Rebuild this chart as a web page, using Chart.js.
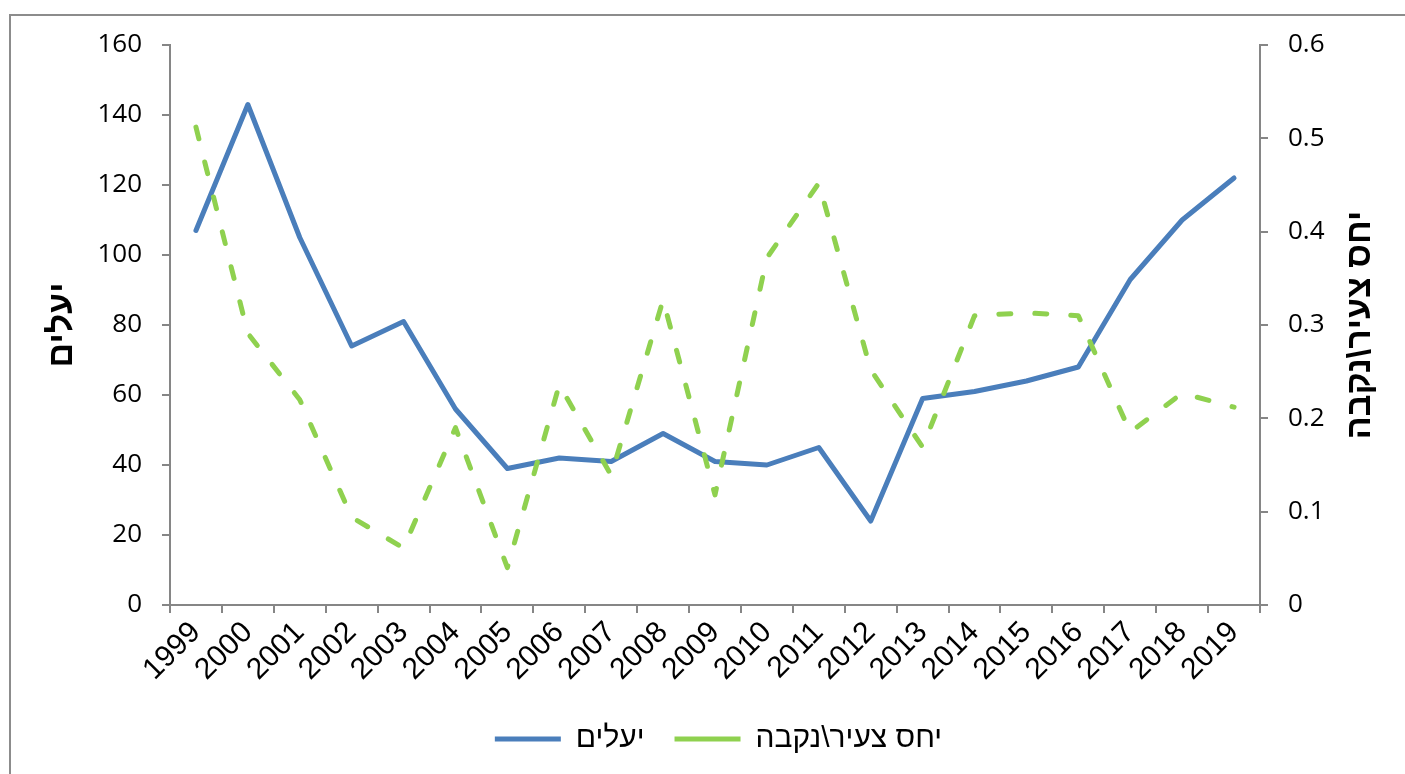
<!DOCTYPE html>
<html>
<head>
<meta charset="utf-8">
<script src="https://cdn.jsdelivr.net/npm/chart.js@4.4.1/dist/chart.umd.min.js"></script>
<style>
html, body { margin: 0; padding: 0; background: #fff; overflow: hidden; }
#frame { position: absolute; left: 9px; top: 14px; width: 1500px; height: 900px; border: 2px solid #8c8c8c; }
#wrap { position: absolute; left: 0; top: 0; width: 1405px; height: 774px; }
</style>
</head>
<body>
<div id="frame"></div>
<div id="wrap"><canvas id="chart"></canvas></div>
<script>
const years = ['1999', '2000', '2001', '2002', '2003', '2004', '2005', '2006', '2007', '2008', '2009',
	'2010', '2011', '2012', '2013', '2014', '2015', '2016', '2017', '2018', '2019'];
const ibex = [107, 143, 105, 74, 81, 56, 39, 42, 41, 49, 41, 40, 45, 24, 59, 61, 64, 68, 93, 110, 122];
const ratio = [0.512, 0.291, 0.22, 0.094, 0.061, 0.19, 0.04, 0.236, 0.139, 0.327, 0.118,
	0.372, 0.452, 0.252, 0.169, 0.31, 0.313, 0.31, 0.185, 0.227, 0.212];
const ibexLabel = 'יעלים';
const ratioLabel = 'יחס צעיר\\נקבה';

const axisGray = '#868686';

// Excel-style axis titles: both read bottom-to-top
var axisTitles = {
	id: 'axisTitles',
	afterDraw: function(chart) {
		var ctx = chart.ctx;
		var area = chart.chartArea;
		var cy = (area.top + area.bottom) / 2;
		var spots = [
			[area.left - 107, ibexLabel],
			[chart.scales.y1.right - 44, ratioLabel]
		];
		ctx.save();
		ctx.font = 'bold 34px "Liberation Sans"';
		ctx.fillStyle = '#000';
		ctx.textAlign = 'center';
		ctx.textBaseline = 'middle';
		spots.forEach(function(s) {
			ctx.save();
			ctx.translate(s[0], cy);
			ctx.rotate(-Math.PI / 2);
			ctx.fillText(s[1], 0, 0);
			ctx.restore();
		});
		ctx.restore();
	}
};

var tickFont = { family: '"Open Sans"', size: 26 };

// eslint-disable-next-line no-undef
var chart = new Chart(document.getElementById('chart'), {
	type: 'line',
	data: {
		labels: years,
		datasets: [{
			label: ibexLabel,
			data: ibex,
			yAxisID: 'y',
			borderColor: '#4a7ebb',
			backgroundColor: '#4a7ebb',
			borderWidth: 5,
			borderJoinStyle: 'round',
			borderCapStyle: 'round',
			pointRadius: 0,
			order: 1
		}, {
			label: ratioLabel,
			data: ratio,
			yAxisID: 'y1',
			borderColor: '#8fd14f',
			backgroundColor: '#8fd14f',
			borderWidth: 5,
			borderDash: [12, 24],
			borderCapStyle: 'round',
			borderJoinStyle: 'round',
			pointRadius: 0,
			order: 0
		}]
	},
	options: {
		responsive: true,
		maintainAspectRatio: false,
		animation: false,
		layout: {
			// extra left padding nudges the centred legend to the right
			padding: { top: 45, bottom: 10, left: 32, right: 0 }
		},
		scales: {
			x: {
				offset: true,
				grid: { offset: true, drawOnChartArea: false, tickLength: 8, color: axisGray, lineWidth: 2 },
				border: { color: axisGray, width: 2 },
				ticks: {
					autoSkip: false,
					minRotation: 45,
					maxRotation: 45,
					padding: 2,
					color: '#000',
					font: { family: '"Liberation Sans"', size: 30 }
				},
				afterFit: function(s) { s.height = 89; }
			},
			y: {
				position: 'left',
				min: 0,
				max: 160,
				grid: { drawOnChartArea: false, tickLength: 8, color: axisGray, lineWidth: 2 },
				border: { color: axisGray, width: 2 },
				ticks: { stepSize: 20, padding: 20, color: '#000', font: tickFont },
				afterFit: function(s) { s.width = 138; }
			},
			y1: {
				position: 'right',
				min: 0,
				max: 0.6,
				grid: { drawOnChartArea: false, tickLength: 8, color: axisGray, lineWidth: 2 },
				border: { color: axisGray, width: 2 },
				ticks: {
					stepSize: 0.1,
					padding: 20,
					color: '#000',
					font: tickFont,
					callback: function(v) { return String(Math.round(v * 10) / 10); }
				},
				afterFit: function(s) { s.width = 145; }
			}
		},
		plugins: {
			legend: {
				position: 'bottom',
				labels: {
					usePointStyle: true,
					pointStyle: 'line',
					pointStyleWidth: 66,
					padding: 30,
					color: '#000',
					font: { family: '"Liberation Sans"', size: 30 },
					sort: function(a, b) { return a.datasetIndex - b.datasetIndex; }
				}
			},
			tooltip: { enabled: false }
		}
	},
	plugins: [axisTitles]
});
</script>
</body>
</html>
